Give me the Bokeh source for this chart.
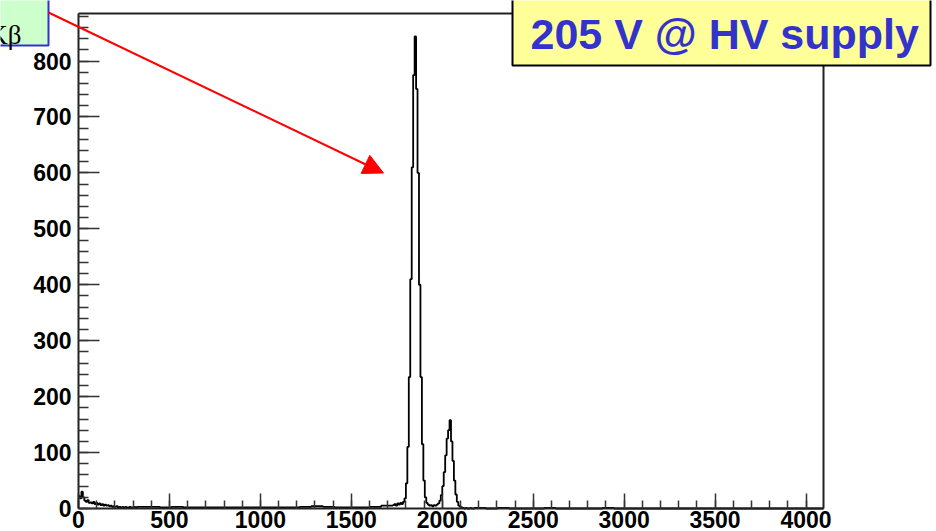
import numpy as np
from bokeh.plotting import figure
from bokeh.models import (Range1d, FixedTicker, Label, Arrow, NormalHead,
                          LinearAxis, BoxAnnotation)
from bokeh.embed import file_html
from bokeh.resources import INLINE

# ---- histogram data (ADC channel vs counts) ----
# channels 0..320, bins of 8
low_counts = [22, 18, 30, 20, 14, 12, 15, 10, 11, 9, 12, 8, 10, 7, 9, 6, 8, 5, 7, 5,
              6, 4, 5, 3, 4, 3, 4, 2, 3, 2, 3, 2, 3, 2, 2, 3, 2, 2, 3, 2]
# channels 320..1728, bins of 64
mid_counts = [3, 3, 2, 3, 2, 2, 2, 2, 2, 2, 2, 2, 2, 2, 3, 4, 3, 2, 2, 2, 3, 5]
# channels 1728..2176, bins of 8
peak_counts = [6, 8, 5, 9, 7, 10, 8, 12, 18, 45, 110, 235, 410, 610, 775, 844,
               750, 600, 400, 235, 115, 50, 20, 10, 7, 5, 6, 4, 6, 5, 7, 9,
               14, 24, 40, 65, 95, 125, 140, 158, 120, 85, 50, 25, 12, 5, 3, 2,
               1, 0, 1, 0, 0, 1, 0, 0]
# channels 2176..4096, bins of 64
tail_counts = [1, 0, 1, 0, 0, 0, 1, 0, 0, 0, 0, 1, 0, 0, 0, 0, 0, 0, 0, 0,
               0, 0, 0, 0, 0, 0, 0, 0, 0, 0]

x_ticks = [0, 500, 1000, 1500, 2000, 2500, 3000, 3500, 4000]
y_ticks = [0, 100, 200, 300, 400, 500, 600, 700, 800]
X_MAX, Y_MAX = 4096, 885

edges = np.concatenate([np.arange(0, 320, 8), np.arange(320, 1728, 64),
                        np.arange(1728, 2176, 8), np.arange(2176, X_MAX + 64, 64)])
counts = np.array(low_counts + mid_counts + peak_counts + tail_counts, dtype=float)
xs = np.repeat(edges, 2)[1:-1]
ys = np.repeat(counts, 2)

# ---- layout: the plotting frame covers the whole canvas; the histogram box
# (0..4096 x 0..885) sits at pixels 78..823 x 13..508
W, H = 936, 531
BL, BR, BT, BB = 78, 823, 13, 508
kx = (BR - BL) / X_MAX
ky = (BB - BT) / Y_MAX


def dx(px):
    return (px - BL) / kx


def dy(py):
    return (BB - py) / ky


p = figure(width=W, height=H, output_backend="svg", toolbar_location=None, title=None,
           x_range=Range1d(dx(0), dx(W)), y_range=Range1d(dy(H), dy(0)),
           min_border_left=0, min_border_right=0, min_border_top=0, min_border_bottom=0)
p.grid.visible = False
p.background_fill_color = "white"
p.border_fill_color = "white"
p.outline_line_color = None

p.line(xs, ys, line_color="black", line_width=1.8)

p.xaxis.ticker = FixedTicker(ticks=x_ticks, minor_ticks=list(range(0, X_MAX + 1, 100)))
p.yaxis.ticker = FixedTicker(ticks=y_ticks, minor_ticks=list(range(0, Y_MAX + 1, 20)))
p.xaxis.fixed_location = 0
p.yaxis.fixed_location = 0
p.xaxis.bounds = (0, X_MAX)
p.yaxis.bounds = (0, Y_MAX)
for ax in (p.xaxis, p.yaxis):
    ax.axis_line_color = "#222222"
    ax.axis_line_width = 2
    ax.major_tick_out = 0
    ax.minor_tick_out = 0
    ax.major_tick_line_color = "#333333"
    ax.minor_tick_line_color = "#333333"
    ax.major_tick_line_width = 1.5
    ax.minor_tick_line_width = 1.5
    ax.major_label_text_font = "Liberation Sans"
    ax.major_label_text_font_style = "bold"
    ax.major_label_text_font_size = "23px"
    ax.major_label_text_color = "black"
p.xaxis.major_tick_in = 15
p.xaxis.minor_tick_in = 8
p.xaxis.major_label_standoff = 2
p.yaxis.major_tick_in = 21
p.yaxis.minor_tick_in = 10
p.yaxis.major_label_standoff = 7

# top and right edges of the histogram box (plain axes, no ticks)
top_axis = LinearAxis(fixed_location=Y_MAX, bounds=(0, X_MAX), ticker=FixedTicker(ticks=[]),
                      axis_line_color="#222222", axis_line_width=2,
                      major_tick_in=0, major_tick_out=0, minor_tick_in=0, minor_tick_out=0,
                      major_label_text_alpha=0)
right_axis = LinearAxis(fixed_location=X_MAX, bounds=(0, Y_MAX), ticker=FixedTicker(ticks=[]),
                        axis_line_color="#222222", axis_line_width=2,
                        major_tick_in=0, major_tick_out=0, minor_tick_in=0, minor_tick_out=0,
                        major_label_text_alpha=0)
p.add_layout(top_axis, "above")
p.add_layout(right_axis, "right")

# ---- annotations ----
p.add_layout(BoxAnnotation(left=dx(-10), right=dx(48), top=dy(-10), bottom=dy(45),
                           fill_color="#ccffcc", fill_alpha=1,
                           line_color="#3333cc", line_width=2, line_alpha=1))
p.add_layout(Label(x=dx(21), y=dy(34), text="Kβ",
                   text_font="Liberation Serif", text_font_size="27px", text_color="black",
                   text_align="right", text_baseline="alphabetic"))

p.add_layout(Arrow(x_start=dx(48), y_start=dy(12), x_end=dx(383), y_end=dy(172.5),
                   line_color="red", line_width=2,
                   end=NormalHead(size=20, fill_color="red", line_color="red")))

p.add_layout(BoxAnnotation(left=dx(512), right=dx(930), top=dy(-10), bottom=dy(65),
                           fill_color="#ffff99", fill_alpha=1,
                           line_color="black", line_width=2, line_alpha=1))
p.add_layout(Label(x=dx(530), y=dy(33), text="205 V @ HV supply",
                   text_font="Liberation Sans", text_font_style="bold",
                   text_font_size="43px", text_color="#3333cc",
                   text_align="left", text_baseline="alphabetic"))

open("out.html", "w").write(file_html(p, INLINE))
